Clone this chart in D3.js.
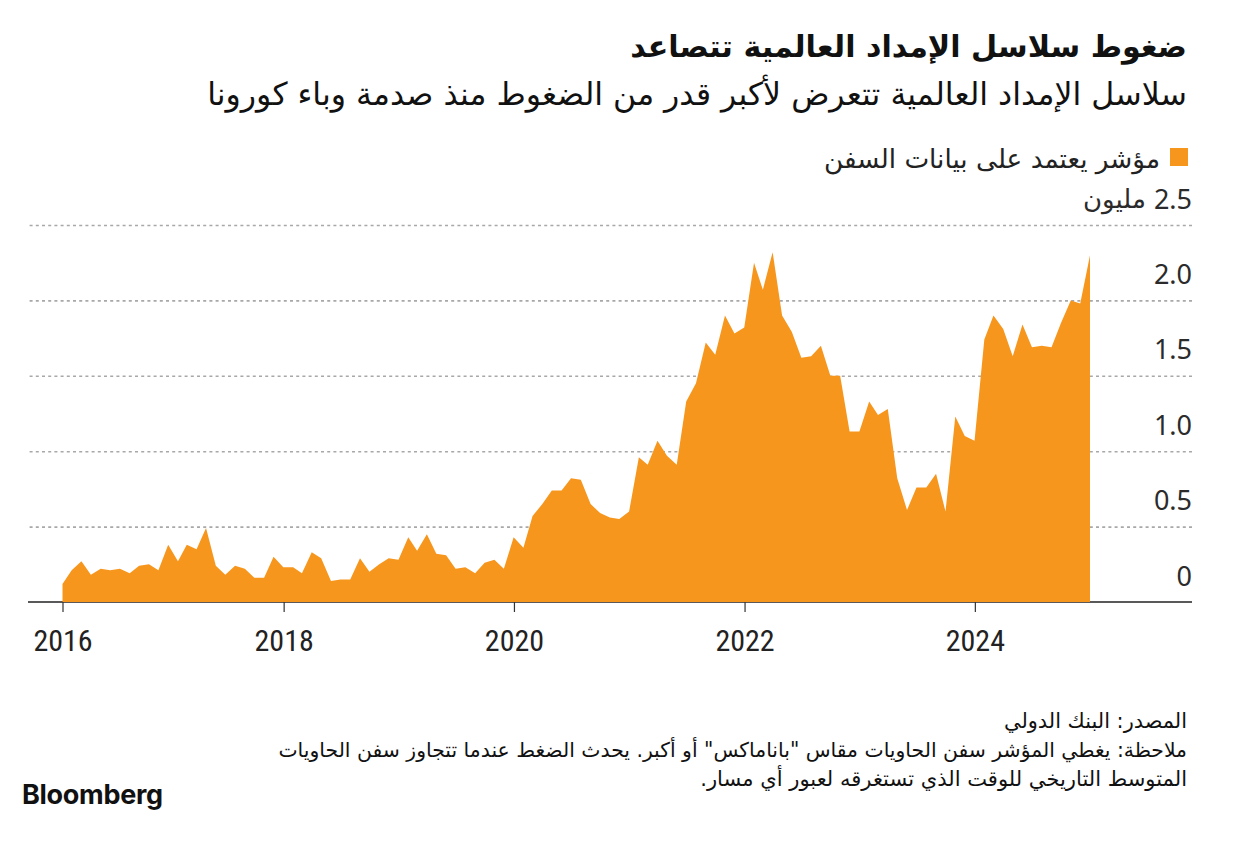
<!DOCTYPE html>
<html>
<head>
<meta charset="utf-8">
<script src="https://cdn.jsdelivr.net/npm/d3@7"></script>
<style>
  html, body { margin: 0; padding: 0; background: #fff; }
  svg { display: block; }
</style>
</head>
<body>
<svg id="chart" width="1240" height="854"></svg>
<script>
// ---------- DATA ----------
const title = "ضغوط سلاسل الإمداد العالمية تتصاعد";
const subtitle = "سلاسل الإمداد العالمية تتعرض لأكبر قدر من الضغوط منذ صدمة وباء كورونا";
const seriesName = "مؤشر يعتمد على بيانات السفن";
const unitLabel = "مليون";
const sourceText = "المصدر: البنك الدولي";
const noteLine1 = "ملاحظة: يغطي المؤشر سفن الحاويات مقاس \"باناماكس\" أو أكبر. يحدث الضغط عندما تتجاوز سفن الحاويات";
const noteLine2 = "المتوسط التاريخي للوقت الذي تستغرقه لعبور أي مسار.";
const brand = "Bloomberg";

// monthly observations, Jan 2016 .. Dec 2024 (millions)
const startYear = 2016, startMonth = 0;
const values = [
  0.12,0.21,0.27,0.18,0.22,0.21,0.22,0.19,0.24,0.25,0.21,0.38,
  0.27,0.38,0.35,0.49,0.24,0.18,0.24,0.22,0.16,0.16,0.30,0.23,
  0.23,0.19,0.33,0.29,0.14,0.15,0.15,0.29,0.20,0.25,0.29,0.28,
  0.43,0.34,0.45,0.32,0.31,0.22,0.23,0.19,0.26,0.28,0.22,0.43,
  0.36,0.57,0.65,0.74,0.74,0.82,0.81,0.65,0.59,0.56,0.55,0.60,
  0.96,0.91,1.07,0.97,0.91,1.33,1.45,1.72,1.64,1.90,1.78,1.82,
  2.25,2.07,2.32,1.90,1.79,1.62,1.63,1.70,1.50,1.50,1.13,1.13,
  1.33,1.24,1.28,0.82,0.61,0.76,0.76,0.85,0.60,1.23,1.10,1.07,
  1.74,1.90,1.81,1.63,1.84,1.69,1.70,1.69,1.85,2.00,1.98,2.30
];
const yTickValues = [0, 0.5, 1.0, 1.5, 2.0, 2.5];
const yTickLabels = ["0", "0.5", "1.0", "1.5", "2.0", "2.5"];
const xTickYears = [2016, 2018, 2020, 2022, 2024];

// month-end dates for each observation
const data = values.map((v, i) => ({ date: new Date(startYear, startMonth + i + 1, 0), v }));

// ---------- LAYOUT ----------
const ORANGE = "#f7961d";
const svg = d3.select("#chart");
svg.append("rect").attr("width", 1240).attr("height", 854).attr("fill", "#fff");

const x = d3.scaleTime()
  .domain([data[0].date, data[data.length - 1].date])
  .range([62.5, 1090]);
const y = d3.scaleLinear().domain([0, 2.5]).range([602, 225]);

const gridLeft = 28, gridRight = 1192;

// fit helper for the Arabic text (sets font-size to reach a target width)
function fit(sel, target) {
  const w = sel.node().getComputedTextLength();
  const fs = parseFloat(sel.attr("font-size"));
  if (w > 0) sel.attr("font-size", (fs * target / w).toFixed(2));
  return sel;
}
// move a text element horizontally so that its drawn right edge sits at xr
function alignRight(sel, xr) {
  const b = sel.node().getBBox();
  const cur = parseFloat(sel.attr("x")) || 0;
  sel.attr("x", cur + (xr - (b.x + b.width)));
  return sel;
}

// ---------- TITLES ----------
const AR = "'DejaVu Sans', 'Noto Sans', sans-serif";
fit(svg.append("text").text(title)
  .attr("x", 1187).attr("y", 57)
  .attr("direction", "rtl").attr("text-anchor", "start")
  .attr("font-family", AR).attr("font-weight", 700).attr("font-size", 32)
  .attr("fill", "#111"), 557);

fit(svg.append("text").text(subtitle)
  .attr("x", 1187).attr("y", 105)
  .attr("direction", "rtl").attr("text-anchor", "start")
  .attr("font-family", AR).attr("font-size", 28)
  .attr("fill", "#111"), 980);

// legend
svg.append("rect").attr("x", 1170).attr("y", 148).attr("width", 18).attr("height", 18).attr("fill", ORANGE);
fit(svg.append("text").text(seriesName)
  .attr("x", 1160).attr("y", 168)
  .attr("direction", "rtl").attr("text-anchor", "start")
  .attr("font-family", AR).attr("font-size", 23)
  .attr("fill", "#222"), 336);

// ---------- Y GRID + LABELS ----------
const yAxis = d3.axisRight(y)
  .tickValues(yTickValues)
  .tickSize(-(gridRight - gridLeft))
  .tickFormat((d, i) => yTickLabels[i]);
const gy = svg.append("g").attr("transform", `translate(${gridRight},0)`).call(yAxis);
gy.select(".domain").remove();
gy.selectAll(".tick line")
  .attr("stroke", "#a8a8a8").attr("stroke-width", 1.6).attr("stroke-dasharray", "3,3.2")
  .attr("opacity", d => d === 0 ? 0 : 1);
gy.selectAll(".tick text")
  .attr("x", 0).attr("dy", 0).attr("y", -17)
  .attr("text-anchor", "end")
  .attr("font-family", "'Noto Sans', 'Open Sans', sans-serif")
  .attr("font-size", 27).attr("fill", "#2b2b2b");

// unit word: to the left of the top number (number stays in the right-aligned column)
const topNum = gy.selectAll(".tick").filter(d => d === 2.5).select("text");
const numBox = topNum.node().getBBox();
const unit = svg.append("text").text(unitLabel)
  .attr("x", 0).attr("y", y(2.5) - 17)
  .attr("font-family", AR).attr("font-size", 26).attr("fill", "#2b2b2b");
alignRight(unit, gridRight + numBox.x - 8);

// ---------- X AXIS ----------
svg.append("line")
  .attr("x1", gridLeft).attr("x2", gridRight)
  .attr("y1", y(0)).attr("y2", y(0))
  .attr("stroke", "#222").attr("stroke-width", 1.6);

const xTicks = xTickYears.map((yr, i) => i === 0 ? data[0].date : new Date(yr, 0, 1));
const xAxis = d3.axisBottom(x)
  .tickValues(xTicks)
  .tickSize(10)
  .tickFormat(d3.timeFormat("%Y"));
const gx = svg.append("g").attr("transform", `translate(0,${y(0)})`).call(xAxis);
gx.select(".domain").remove();
gx.selectAll(".tick line").attr("stroke", "#333").attr("stroke-width", 1.2);
gx.selectAll(".tick text")
  .attr("y", 49).attr("dy", 0)
  .attr("font-family", "'Liberation Sans Narrow', 'Roboto Condensed', 'DejaVu Sans Condensed', 'Liberation Sans', sans-serif")
  .attr("font-size", 30).attr("fill", "#222");

// ---------- AREA ----------
const area = d3.area()
  .x(d => x(d.date))
  .y0(y(0))
  .y1(d => y(d.v));
svg.append("path").datum(data).attr("d", area).attr("fill", ORANGE);

// ---------- FOOTER ----------
fit(svg.append("text").text(sourceText)
  .attr("x", 1187).attr("y", 728)
  .attr("direction", "rtl").attr("text-anchor", "start")
  .attr("font-family", AR).attr("font-size", 19).attr("fill", "#111"), 183);
fit(svg.append("text").text(noteLine1)
  .attr("x", 1187).attr("y", 757)
  .attr("direction", "rtl").attr("text-anchor", "start")
  .attr("font-family", AR).attr("font-size", 19).attr("fill", "#111"), 909);
fit(svg.append("text").text(noteLine2)
  .attr("x", 1187).attr("y", 786)
  .attr("direction", "rtl").attr("text-anchor", "start")
  .attr("font-family", AR).attr("font-size", 19).attr("fill", "#111"), 487);

svg.append("text").text(brand)
  .attr("x", 22).attr("y", 804)
  .attr("font-family", "Inter, 'Open Sans', sans-serif")
  .attr("font-weight", 700).attr("font-size", 27)
  .attr("letter-spacing", -0.3)
  .attr("fill", "#111");
</script>
</body>
</html>
